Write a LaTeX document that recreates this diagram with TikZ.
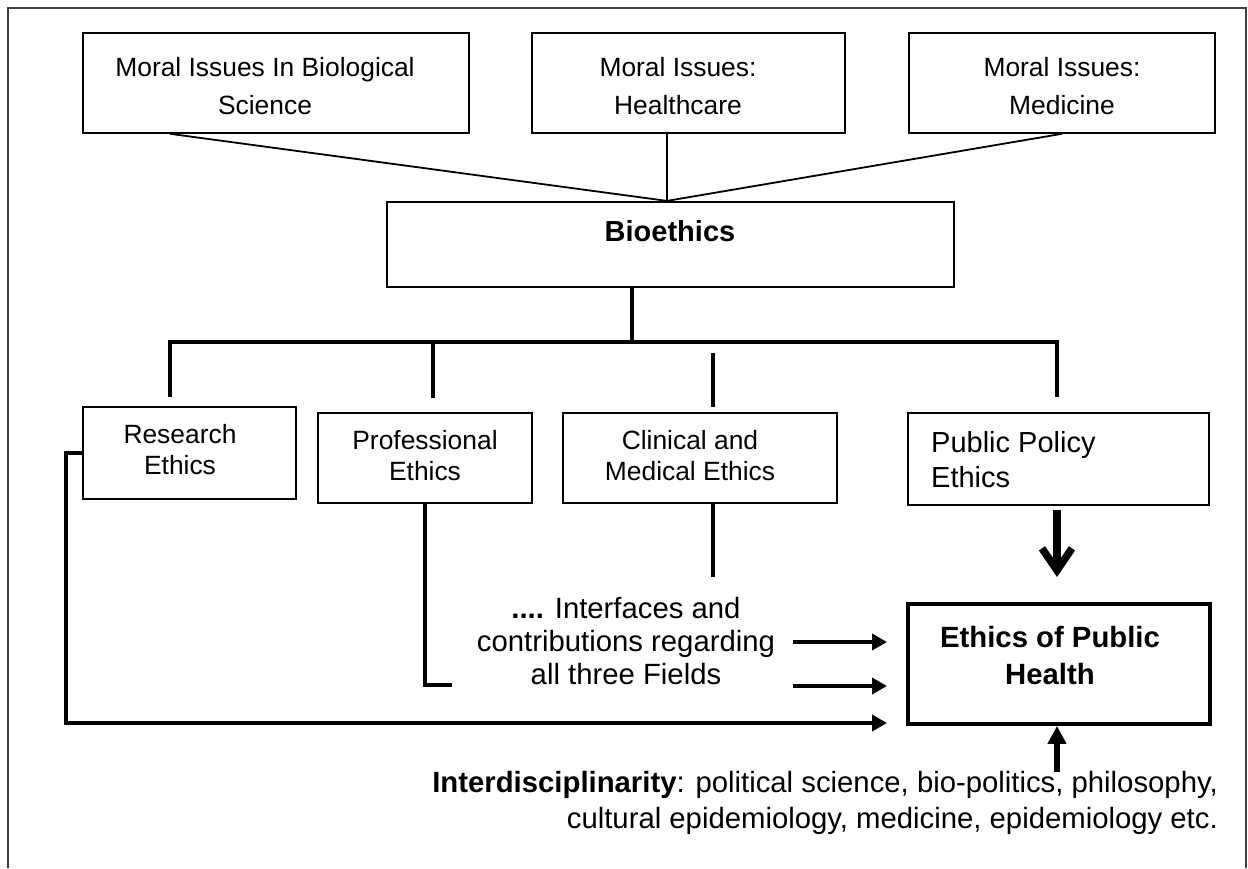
\documentclass[tikz,border=0pt]{standalone}
\usepackage{fontspec}
\setmainfont{Liberation Sans}
\usetikzlibrary{arrows.meta}
\begin{document}
\begin{tikzpicture}[x=1pt,y=-1pt,
  box/.style={draw, line width=1.6pt, inner sep=0pt, rectangle},
  txt/.style={inner sep=0pt, align=center, text depth=0pt},
  fs/.style 2 args={font=\fontsize{#1}{#2}\selectfont},
  fsb/.style 2 args={font=\fontsize{#1}{#2}\selectfont\bfseries},
  thinline/.style={line width=1.8pt},
  bus/.style={line width=3.8pt},
  arr/.style={line width=4pt, -{Triangle[length=15pt,width=16pt]}},
  uparr/.style={line width=6pt, -{Triangle[length=18pt,width=18pt]}},
  downarr/.style={line width=7.5pt, -{Straight Barb[length=22pt,width=30pt,line width=7.5pt]}}
]
\fill[white] (0,0) rectangle (1248,868);
\useasboundingbox (0,0) rectangle (1248,868);

% outer frame (runs off the bottom of the page)
\draw[line width=1.8pt, black!75] (8,868) -- (8,8) -- (1246,8) -- (1246,868);

% top row: the three fields of moral issues
\node[box, minimum width=386pt, minimum height=100pt] (mb1) at (276,83) {};
\node[box, minimum width=313pt, minimum height=100pt] (mb2) at (688.5,83) {};
\node[box, minimum width=306pt, minimum height=100pt] (mb3) at (1062,83) {};
\node[txt, fs={26.4}{38}] (t1) at (265,86) {Moral Issues In Biological\\Science};
\node[txt, fs={26.4}{38}] (t2) at (678,86) {Moral Issues:\\Healthcare};
\node[txt, fs={26.4}{38}] (t3) at (1062,86) {Moral Issues:\\Medicine};

% bioethics
\node[box, line width=2.2pt, minimum width=567pt, minimum height=85pt] (bio) at (670.5,244.5) {};
\node[txt, fsb={29}{35}] (tb) at (670,231) {Bioethics};

\coordinate (bt) at ([xshift=-3.5pt]bio.north);
\draw[thinline] ([xshift=-106pt]mb1.south) -- (bt);
\draw[thinline] ([xshift=-21.5pt]mb2.south) -- (bt);
\draw[thinline] (mb3.south) -- (bt);

% second row: the four branches
\node[box, minimum width=213pt, minimum height=92pt] (res) at (189.5,453) {};
\node[box, minimum width=214pt, minimum height=90pt] (pro) at (425,458) {};
\node[box, minimum width=274pt, minimum height=90pt] (cli) at (700,458) {};
\node[box, line width=2.6pt, minimum width=301pt, minimum height=92pt] (pub) at (1058.5,459) {};
\node[txt, fs={26.4}{31}] (tr) at (180,449.5) {Research\\Ethics};
\node[txt, fs={26.4}{31}] (tp) at (425,455.5) {Professional\\Ethics};
\node[txt, fs={26.4}{31}] (tc) at (690,455.5) {Clinical and\\Medical Ethics};
\node[txt, fs={29}{35}, align=left, anchor=west] (tpp) at (931,459.5) {Public Policy\\Ethics};

% bus from bioethics to the branches
\coordinate (busL) at (170,342);
\coordinate (busR) at (1057,342);
\coordinate (d1) at (170,397);
\coordinate (d2) at (433,398);
\coordinate (d4) at (1057,397);
\coordinate (c1) at (713,353);
\coordinate (c2) at (713,407);
\draw[bus] ([xshift=-38.5pt]bio.south) -- ([xshift=-38.5pt]bio.south |- busL);
\draw[bus] (d1) -- (busL) -- (busR) -- (d4);
\draw[bus] (d2) -- (d2 |- busL);
\draw[bus] (c1) -- (c2);

% target box
\node[box, line width=3.8pt, minimum width=302pt, minimum height=120pt] (eph) at (1059,664) {};
\node[txt, fsb={29.3}{37}] (te) at (1050,655.5) {Ethics of Public\\Health};

% interfaces text and its arrows
\node[txt, fs={29.3}{33}] (ti) at (626,640.5) {\textbf{....} Interfaces and\\contributions regarding\\all three Fields};
\coordinate (a1) at (793,642);
\coordinate (a1e) at (887,642);
\coordinate (a2) at (793,686);
\coordinate (a2e) at (887,686);
\draw[arr] (a1) -- (a1e);
\draw[arr] (a2) -- (a2e);

% professional ethics and clinical ethics leads
\coordinate (p1) at (425,685);
\coordinate (p2) at (452,685);
\draw[bus] (pro.south) -- (p1) -- (p2);
\coordinate (c3) at (713,577);
\draw[bus] ([xshift=13pt]cli.south) -- (c3);

% research ethics lead round the left side
\coordinate (r1) at (66,453);
\coordinate (r2) at (66,723);
\coordinate (r3) at (887,723);
\draw[arr] (res.west) -- (r1) -- (r2) -- (r3);

% public policy down arrow
\coordinate (pd1) at (1057,510);
\coordinate (pd2) at (1057,577);
\draw[downarr] (pd1) -- (pd2);

% interdisciplinarity
\node[txt, fs={29.3}{36}, align=right, anchor=east] (tid) at (1218,800) {\textbf{Interdisciplinarity}: political science, bio-politics, philosophy,\\cultural epidemiology, medicine, epidemiology etc.};
\coordinate (u1) at (1057,772);
\draw[uparr] (u1) -- (u1 |- eph.south);
\end{tikzpicture}
\end{document}
